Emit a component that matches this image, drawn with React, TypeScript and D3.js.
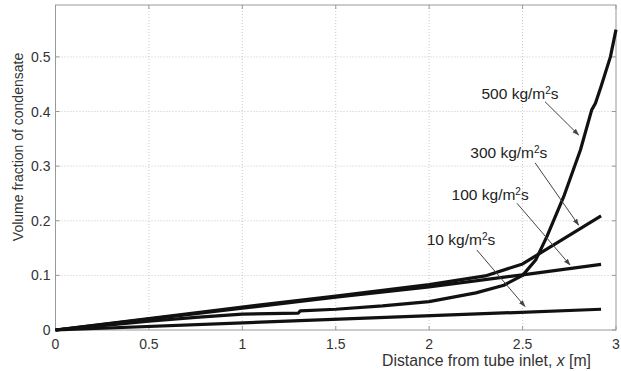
import React from 'react';
import * as d3 from 'd3';

// ---- data ----
const xTicks = [0, 0.5, 1, 1.5, 2, 2.5, 3];
const yTicks = [0, 0.1, 0.2, 0.3, 0.4, 0.5];

const x10 = [0, 2.92];
const y10 = [0, 0.038];

const x100 = [0, 0.5, 1, 1.5, 2, 2.5, 2.92];
const y100 = [0, 0.02, 0.04, 0.06, 0.079, 0.101, 0.12];

const x300 = [0, 0.5, 1, 1.5, 2, 2.3, 2.5, 2.92];
const y300 = [0, 0.021, 0.042, 0.062, 0.083, 0.099, 0.121, 0.209];

const x500 = [0, 0.25, 0.5, 0.75, 1.0, 1.3, 1.31, 1.5, 1.75, 2.0, 2.25, 2.4, 2.5, 2.57, 2.63, 2.72, 2.81, 2.87, 2.89, 2.92, 2.97, 3.0];
const y500 = [0, 0.008, 0.016, 0.023, 0.029, 0.031, 0.035, 0.038, 0.044, 0.052, 0.068, 0.082, 0.1, 0.128, 0.171, 0.244, 0.33, 0.403, 0.415, 0.446, 0.5, 0.55];

const labels = ['500', '300', '100', '10'];
// label anchor (data units) and arrow start/end (data units)
const labelX = [2.28, 2.22, 2.12, 1.987];
const labelY = [0.423, 0.315, 0.238, 0.156];
const arrowX0 = [2.62, 2.567, 2.47, 2.255];
const arrowY0 = [0.418, 0.306, 0.232, 0.1465];
const arrowX1 = [2.8, 2.8, 2.754, 2.513];
const arrowY1 = [0.357, 0.192, 0.119, 0.043];

const W = 621;
const H = 371;
const margin = { top: 5, right: 5, bottom: 41, left: 55.5 };

const App = () => {
  const x = d3.scaleLinear().domain([0, 3]).range([margin.left, W - margin.right]);
  const y = d3.scaleLinear().domain([0, 0.595]).range([H - margin.bottom, margin.top]);

  const line = d3
    .line<[number, number]>()
    .x(d => x(d[0]))
    .y(d => y(d[1]));

  const series = [
    x10.map((v, i) => [v, y10[i]] as [number, number]),
    x100.map((v, i) => [v, y100[i]] as [number, number]),
    x300.map((v, i) => [v, y300[i]] as [number, number]),
    x500.map((v, i) => [v, y500[i]] as [number, number]),
  ];

  const font = '"Liberation Sans", Arial, Helvetica, sans-serif';
  const x0 = x(0);
  const x3 = x(3);
  const yb = y(0);
  const yt = margin.top;

  return (
    <svg
      width={W}
      height={H}
      style={{ position: 'absolute', left: 0, top: 0, background: '#fff' }}
      fontFamily={font}
    >
      <defs>
        <marker id="arr" viewBox="0 0 10 10" refX="9" refY="5" markerWidth="7" markerHeight="7" orient="auto">
          <path d="M0,1.5 L10,5 L0,8.5 z" fill="#444" />
        </marker>
      </defs>

      {/* grid */}
      {xTicks.slice(1, -1).map(t => (
        <line key={'gx' + t} x1={x(t)} x2={x(t)} y1={yt} y2={yb} stroke="#bbb" strokeWidth={0.8} strokeDasharray="1,2" />
      ))}
      {yTicks.slice(1).map(t => (
        <line key={'gy' + t} x1={x0} x2={x3} y1={y(t)} y2={y(t)} stroke="#bbb" strokeWidth={0.8} strokeDasharray="1,2" />
      ))}

      {/* frame */}
      <rect x={x0} y={yt} width={x3 - x0} height={yb - yt} fill="none" stroke="#999" strokeWidth={1} />

      {/* ticks */}
      {xTicks.map(t => (
        <g key={'tx' + t}>
          <line x1={x(t)} x2={x(t)} y1={yb} y2={yb - 4} stroke="#999" />
          <line x1={x(t)} x2={x(t)} y1={yt} y2={yt + 4} stroke="#999" />
          <text x={x(t)} y={yb + 19} textAnchor="middle" fontSize={14} fill="#333">
            {t}
          </text>
        </g>
      ))}
      {yTicks.map(t => (
        <g key={'ty' + t}>
          <line x1={x0} x2={x0 + 4} y1={y(t)} y2={y(t)} stroke="#999" />
          <line x1={x3} x2={x3 - 4} y1={y(t)} y2={y(t)} stroke="#999" />
          <text x={x0 - 5} y={y(t) + 5} textAnchor="end" fontSize={14} fill="#333">
            {t}
          </text>
        </g>
      ))}

      {/* curves */}
      {series.map((s, i) => (
        <path key={'s' + i} d={line(s) || ''} fill="none" stroke="#111" strokeWidth={3.2} strokeLinejoin="round" />
      ))}

      {/* annotations */}
      {labels.map((l, i) => (
        <g key={'a' + l}>
          <line
            x1={x(arrowX0[i])}
            y1={y(arrowY0[i])}
            x2={x(arrowX1[i])}
            y2={y(arrowY1[i])}
            stroke="#444"
            strokeWidth={1}
            markerEnd="url(#arr)"
          />
          <text x={x(labelX[i])} y={y(labelY[i])} fontSize={15.5} fill="#222">
            {l} kg/m<tspan fontSize={10} dy={-5}>2</tspan>
            <tspan dy={5}>s</tspan>
          </text>
        </g>
      ))}

      {/* axis labels */}
      <text x={382} y={366} fontSize={15.8} fill="#333">
        Distance from tube inlet, <tspan fontStyle="italic">x</tspan> [m]
      </text>
      <text transform={`translate(23,147) rotate(-90)`} textAnchor="middle" fontSize={14} fill="#333">
        Volume fraction of condensate
      </text>
    </svg>
  );
};

export default App;
